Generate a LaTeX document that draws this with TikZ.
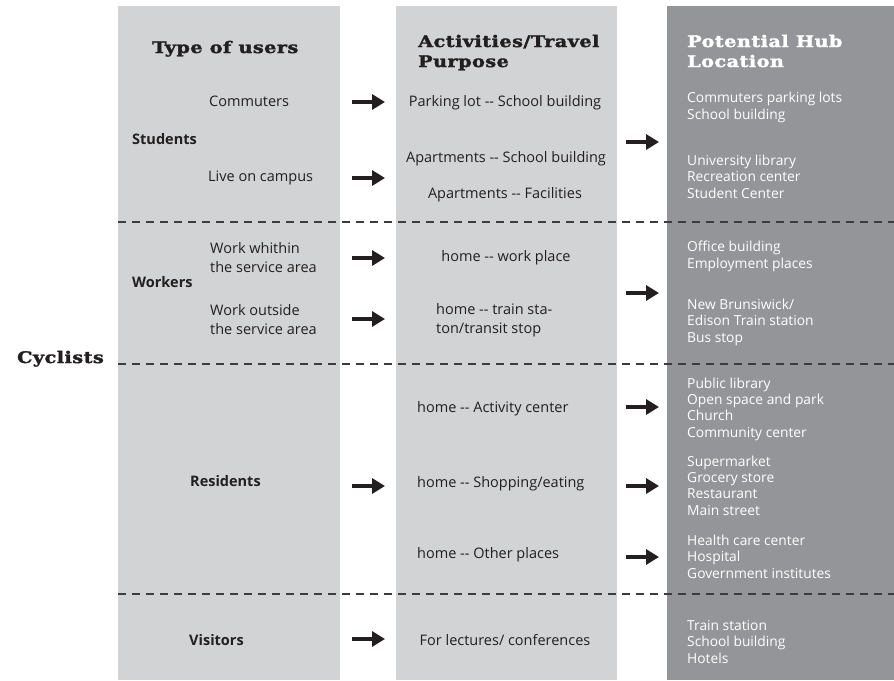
\documentclass[tikz,border=0pt]{standalone}
\usepackage{fontspec}
\setmainfont{Open Sans}[Ligatures=TeXOff]
\newfontfamily\slabfont[FakeStretch=1.2, LetterSpace=3, FakeBold=2]{DejaVu Serif}
\usetikzlibrary{arrows.meta}
\definecolor{PanelGray}{HTML}{D1D3D4}
\definecolor{HubGray}{HTML}{939598}
\definecolor{Ink}{HTML}{231F20}
\definecolor{DashGray}{HTML}{3C3C3C}

\begin{document}
\begin{tikzpicture}[x=1pt, y=-1pt,
    panel/.style={anchor=north west, inner sep=0pt, minimum width=#1, minimum height=674pt},
    hdr/.style={font=\fontsize{16}{20}\slabfont\bfseries, align=left, inner sep=0pt,
        anchor=base west, text=Ink},
    txt/.style={font=\fontsize{14.5}{18.5}\selectfont, align=left, inner sep=0pt,
        anchor=base west, text=Ink},
    ctr/.style={txt, anchor=base},
    lbl/.style={txt, font=\fontsize{14.5}{18.5}\selectfont\bfseries},
    hub/.style={txt, font=\fontsize{13.8}{16.3}\selectfont, text=white},
    arr/.style={-{Triangle[length=13pt, width=15pt]}, line width=3.8pt, Ink},
    sep/.style={dash pattern=on 8pt off 6pt, line width=1.2pt, DashGray}
]
\useasboundingbox (0,0) rectangle (894,680);

\node[panel=222pt, fill=PanelGray] (users) at (118,6) {};
\node[panel=221pt, fill=PanelGray] (trips) at (396,6) {};
\node[panel=227pt, fill=HubGray] (hubs) at (667,6) {};

\node[hdr] (usershdr) at (152,53) {Type of users};
\node[hdr] (tripshdr) at (418,67) {Activities/Travel\\Purpose};
\node[hdr, text=white] (hubshdr) at (687,67) {Potential Hub\\Location};
\node[hdr] (cyclists) at (17,363) {Cyclists};

\node[txt] (commuters) at (209,106) {Commuters};
\node[lbl] (students) at (132,144) {Students};
\node[txt] (campus) at (208,181) {Live on campus};
\node[txt] (within) at (210,272) {Work whithin\\the service area};
\node[lbl] (workers) at (132,287) {Workers};
\node[txt] (outside) at (210,334) {Work outside\\the service area};
\node[lbl] (residents) at (190,486) {Residents};
\node[lbl] (visitors) at (189,645) {Visitors};

\node[ctr] (parking) at (505,106) {Parking lot -- School building};
\node[ctr] (aptschool) at (506,162) {Apartments -- School building};
\node[ctr] (aptfac) at (505,198) {Apartments -- Facilities};
\node[ctr] (workplace) at (506,261) {home -- work place};
\node[txt] (transit) at (436,333) {home -- train sta-\\ton/transit stop};
\node[txt] (activity) at (417,412) {home -- Activity center};
\node[txt] (shopping) at (417,487) {home -- Shopping/eating};
\node[txt] (other) at (417,558) {home -- Other places};
\node[ctr] (lectures) at (505,645) {For lectures/ conferences};

\node[hub] (hubpark) at (687,119) {Commuters parking lots\\School building};
\node[hub] (hubcampus) at (687,198) {University library\\Recreation center\\Student Center};
\node[hub] (hubwork) at (687,268) {Office building\\Employment places};
\node[hub] (hubtrain) at (687,342) {New Brunsiwick/\\Edison Train station\\Bus stop};
\node[hub] (hubactivity) at (687,437) {Public library\\Open space and park\\Church\\Community center};
\node[hub] (hubshop) at (687,515) {Supermarket\\Grocery store\\Restaurant\\Main street};
\node[hub] (hubother) at (687,578) {Health care center\\Hospital\\Government institutes};
\node[hub] (hubvisit) at (687,663) {Train station\\School building\\Hotels};

\foreach \y in {222,364,594}
    \draw[sep] (118,\y) -- (894,\y);

\foreach \y [count=\i] in {102,178,258,319,486,639} {
    \coordinate (in\i) at (352,\y);
    \draw[arr] (in\i) -- ++(33,0);
}
\foreach \y [count=\i] in {142,293,407,486,557} {
    \coordinate (out\i) at (626,\y);
    \draw[arr] (out\i) -- ++(33,0);
}

\end{tikzpicture}
\end{document}
